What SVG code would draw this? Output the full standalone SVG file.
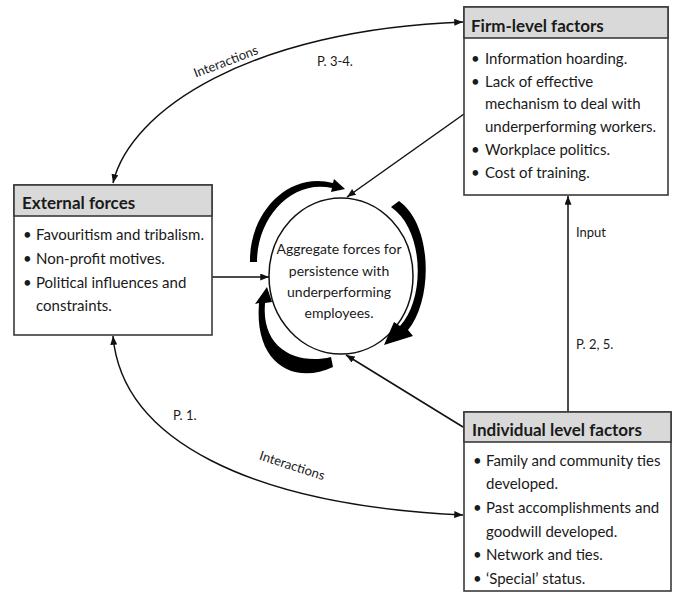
<svg xmlns="http://www.w3.org/2000/svg" width="673" height="592" viewBox="0 0 673 592">
<defs>
<marker id="ah" viewBox="0 0 10 8" refX="10" refY="4" markerWidth="9" markerHeight="7" markerUnits="userSpaceOnUse" orient="auto-start-reverse"><path d="M0,0 L10,4 L0,8 z" fill="#111"/></marker>
</defs>
<style>
.box{fill:#fff;stroke:#3a3a3a;stroke-width:1.6}
.hdr{fill:#d9d9d9;stroke:#3a3a3a;stroke-width:1.6}
.ht{font-family:Lato,"Liberation Sans",sans-serif;font-weight:bold;font-size:17px;fill:#1a1a1a}
.bt{font-family:Lato,"Liberation Sans",sans-serif;font-size:15px;fill:#1a1a1a}
.lbl{font-family:Lato,"Liberation Sans",sans-serif;font-size:13px;fill:#1a1a1a}
.ct{font-family:Lato,"Liberation Sans",sans-serif;font-size:14px;fill:#1a1a1a;text-anchor:middle}
.con{fill:none;stroke:#111;stroke-width:1.5}
.blk{fill:#000}
</style>
<rect width="673" height="592" fill="#fff"/>
<g id="connectors">
<path class="con" d="M113,183 C130,110 250,30 463,22" marker-start="url(#ah)" marker-end="url(#ah)"/>
<path class="con" d="M113,336 C122,440 250,505 463,515" marker-start="url(#ah)" marker-end="url(#ah)"/>
<line class="con" x1="464" y1="114" x2="347" y2="197" marker-end="url(#ah)"/>
<line class="con" x1="463" y1="427" x2="346" y2="355" marker-end="url(#ah)"/>
<line class="con" x1="212" y1="277" x2="269" y2="277" marker-end="url(#ah)"/>
<line class="con" x1="568" y1="412" x2="568" y2="196" marker-end="url(#ah)"/>
<text class="lbl" transform="translate(226,62) rotate(-21)" text-anchor="middle" dy="4">Interactions</text>
<text class="lbl" x="317" y="66">P. 3-4.</text>
<text class="lbl" x="173" y="420">P. 1.</text>
<text class="lbl" transform="translate(292,466) rotate(18)" text-anchor="middle" dy="4">Interactions</text>
<text class="lbl" x="576" y="237">Input</text>
<text class="lbl" x="576" y="349">P. 2, 5.</text>
</g>
<g id="aggregate">
<ellipse cx="341" cy="276" rx="72" ry="78" fill="#fff" stroke="#111" stroke-width="1.5"/>
<text class="ct"><tspan x="339" y="254">Aggregate forces for</tspan><tspan x="339" y="276">persistence with</tspan><tspan x="339" y="297">underperforming</tspan><tspan x="339" y="318">employees.</tspan></text>
<path class="blk" d="M250,262 C249,212 289,171 333,183 L334,179 L345,189 L331,192 L332,188 C292,179 257,217 257,262 Z"/>
<path class="blk" d="M399,201 C433,225 433,300 408,330 L413,336 L384,345 L394,322 L400,326 C425,300 425,230 391,207 Z"/>
<path class="blk" d="M333,367 C295,385 254,365 259,303 L255,304 L267,287 L272,302 L265,303 C261,350 298,365 331,357 Z"/>
</g>
<g id="firm">
<rect class="box" x="464" y="7" width="204" height="188"/>
<rect class="hdr" x="464" y="7" width="204" height="31"/>
<text class="ht" x="471" y="32">Firm-level factors</text>
<text class="bt"><tspan x="471" y="64">•</tspan><tspan x="485" y="64">Information hoarding.</tspan><tspan x="471" y="86.5">•</tspan><tspan x="485" y="86.5">Lack of effective</tspan><tspan x="485" y="109">mechanism to deal with</tspan><tspan x="485" y="131.5">underperforming workers.</tspan><tspan x="471" y="154.5">•</tspan><tspan x="485" y="154.5">Workplace politics.</tspan><tspan x="471" y="177.5">•</tspan><tspan x="485" y="177.5">Cost of training.</tspan></text>
</g>
<g id="external">
<rect class="box" x="14" y="185" width="198" height="150"/>
<rect class="hdr" x="14" y="185" width="198" height="31"/>
<text class="ht" x="22" y="209">External forces</text>
<text class="bt"><tspan x="23" y="240">•</tspan><tspan x="36" y="240">Favouritism and tribalism.</tspan><tspan x="23" y="264">•</tspan><tspan x="36" y="264">Non-profit  motives.</tspan><tspan x="23" y="288">•</tspan><tspan x="36" y="288">Political influences and</tspan><tspan x="36" y="311">constraints.</tspan></text>
</g>
<g id="individual">
<rect class="box" x="464" y="412" width="207" height="179"/>
<rect class="hdr" x="464" y="412" width="207" height="30"/>
<text class="ht" x="472" y="436">Individual level factors</text>
<text class="bt"><tspan x="473" y="466">•</tspan><tspan x="486" y="466">Family and community ties</tspan><tspan x="486" y="489">developed.</tspan><tspan x="473" y="513">•</tspan><tspan x="486" y="513">Past accomplishments and</tspan><tspan x="486" y="537">goodwill developed.</tspan><tspan x="473" y="560">•</tspan><tspan x="486" y="560">Network and ties.</tspan><tspan x="473" y="584">•</tspan><tspan x="486" y="584">‘Special’ status.</tspan></text>
</g>
</svg>
